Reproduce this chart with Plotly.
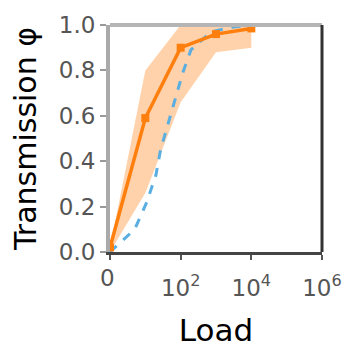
import numpy as np
import plotly.graph_objects as go

# ---- data ----
orange_load = [0, 10, 100, 1000, 10000]
orange_phi = [0.02, 0.59, 0.90, 0.96, 0.985]
band_upper = [0.02, 0.80, 1.00, 1.00, 1.00]
band_lower = [0.00, 0.26, 0.66, 0.88, 0.90]

blue_load = [0, 5, 11, 20, 27, 43, 72, 115, 195, 720, 2700, 10000, 100000]
blue_phi = [0.0, 0.10, 0.22, 0.34, 0.45, 0.56, 0.67, 0.79, 0.89, 0.97, 0.99, 1.0, 1.0]

x_tickvals = [0, 2, 4, 6]
x_ticktext = ["", "10<sup>2</sup>", "10<sup>4</sup>", "10<sup>6</sup>"]
x_zero_label = "0"
y_tickvals = [0.0, 0.2, 0.4, 0.6, 0.8, 1.0]
y_ticktext = ["0.0", "0.2", "0.4", "0.6", "0.8", "1.0"]


def pos(load):
    return np.log10(np.maximum(np.asarray(load, dtype=float), 1.0))


ORANGE = "#ff7f0e"
BLUE = "#5aaee0"
FONT = "DejaVu Sans"

fig = go.Figure()
fig.add_trace(go.Scatter(x=pos(orange_load), y=band_lower, mode="lines",
                         line=dict(width=0), showlegend=False, hoverinfo="skip"))
fig.add_trace(go.Scatter(x=pos(orange_load), y=band_upper, mode="lines",
                         line=dict(width=0), fill="tonexty",
                         fillcolor="rgba(255,127,14,0.35)", showlegend=False,
                         hoverinfo="skip"))
fig.add_trace(go.Scatter(x=pos(blue_load), y=blue_phi, mode="lines",
                         line=dict(color=BLUE, width=3, dash="dash"),
                         showlegend=False))
fig.add_trace(go.Scatter(x=pos(orange_load), y=orange_phi, mode="lines+markers",
                         line=dict(color=ORANGE, width=3.5),
                         marker=dict(symbol="square", size=8, color=ORANGE),
                         showlegend=False))

fig.update_layout(
    width=360, height=354,
    margin=dict(l=110, r=38, t=18, b=102),
    paper_bgcolor="white", plot_bgcolor="white",
    font=dict(family=FONT, color="#555555", size=23),
    xaxis=dict(range=[0, 6], tickvals=x_tickvals, ticktext=x_ticktext,
               showgrid=False, zeroline=False,
               showline=True, linecolor="#444444", linewidth=3,
               ticks="outside", ticklen=5, tickwidth=2, tickcolor="#555555",
               ticklabelstandoff=8,
               tickfont=dict(size=23, color="#555555"),
               title=dict(text="Load", font=dict(size=31, color="black"), standoff=20)),
    yaxis=dict(range=[0, 1], tickvals=y_tickvals, ticktext=y_ticktext,
               showgrid=False, zeroline=False,
               showline=True, linecolor="#aaaaaa", linewidth=4,
               ticks="outside", ticklen=6, tickwidth=2, tickcolor="#999999",
               tickfont=dict(size=23, color="#555555"),
               title=dict(text="Transmission φ", font=dict(size=30, color="black"), standoff=14)),
    annotations=[
        dict(text=x_zero_label, x=x_tickvals[0], y=0, xref="x", yref="paper",
             xanchor="center", yanchor="top", yshift=-11, xshift=-3, showarrow=False,
             font=dict(family=FONT, size=23, color="#555555")),
    ],
    shapes=[
        dict(type="line", xref="paper", yref="paper", x0=0, x1=1, y0=1, y1=1,
             line=dict(color="#b5b5b5", width=4)),
        dict(type="line", xref="paper", yref="paper", x0=1, x1=1, y0=0, y1=1,
             line=dict(color="#333333", width=3)),
    ],
)

fig.write_html("out.html")
